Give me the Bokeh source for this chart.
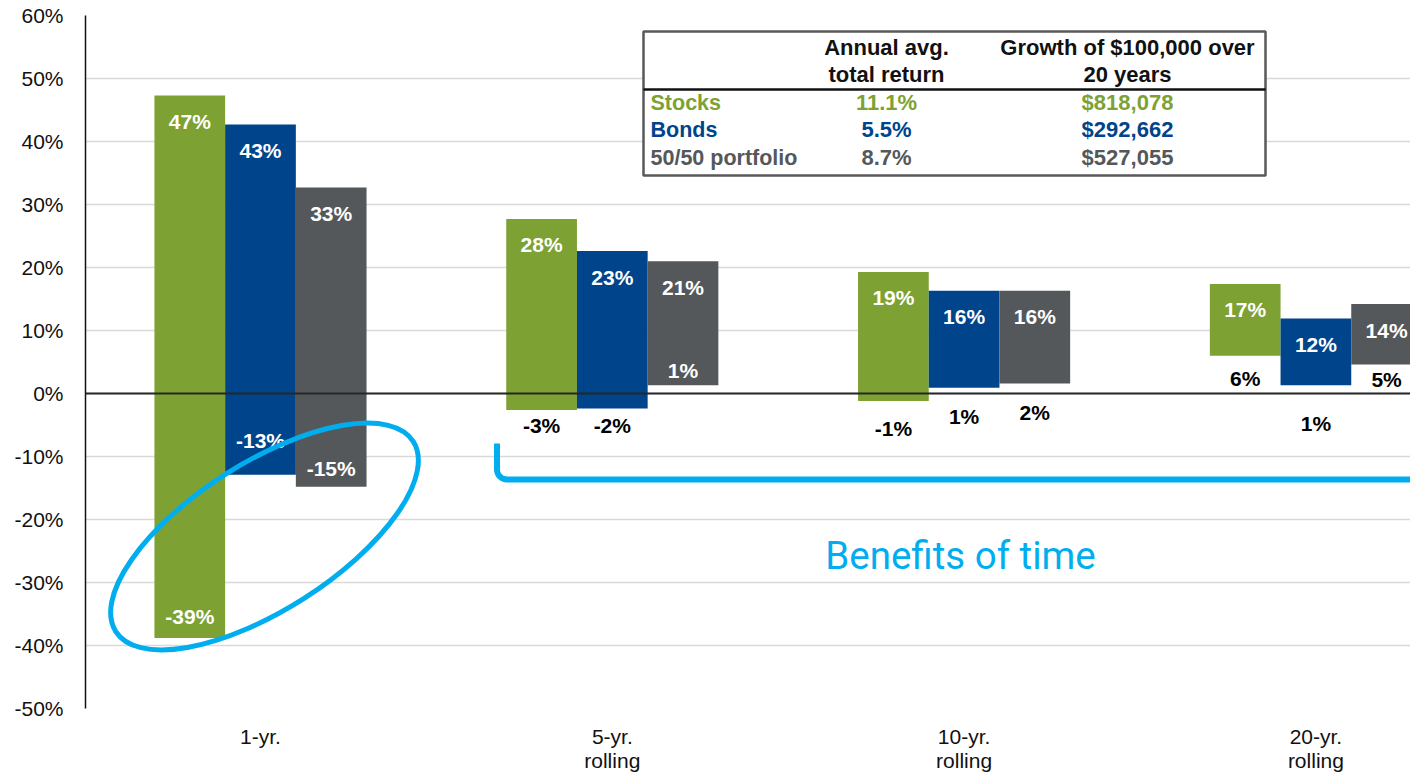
import math
import numpy as np
from bokeh.plotting import figure
from bokeh.models import Range1d, FixedTicker, Span
from bokeh.core.properties import value
from bokeh.embed import file_html
from bokeh.resources import INLINE

# ---------------- data ----------------
periods = ["1-yr.", "5-yr.\nrolling", "10-yr.\nrolling", "20-yr.\nrolling"]
series = ["Stocks", "Bonds", "50/50 portfolio"]

stocks_high = [47.3, 27.7, 19.3, 17.4]
stocks_low = [-38.8, -2.6, -1.2, 6.0]
bonds_high = [42.7, 22.6, 16.3, 11.9]
bonds_low = [-12.9, -2.4, 0.9, 1.3]
mix_high = [32.7, 21.0, 16.3, 14.2]
mix_low = [-14.8, 1.3, 1.6, 4.6]

table_header_1 = ["Annual avg.", "total return"]
table_header_2 = ["Growth of $100,000 over", "20 years"]
table_avg_return = ["11.1%", "5.5%", "8.7%"]
table_growth = ["$818,078", "$292,662", "$527,055"]

y_ticks = list(range(-50, 61, 10))
annotation_text = "Benefits of time"

# ---------------- styling / layout ----------------
COLORS = ["#7DA133", "#00448B", "#54585A"]
CYAN = "#00AEEF"
FONT = "Liberation Sans"

BORDER_L, BORDER_T, BORDER_B = 85, 15, 64
FRAME_W, FRAME_H = 1410 - BORDER_L, 693
PAGE_FRAME_L = BORDER_L      # picture x of frame left
PAGE_FRAME_T = BORDER_T      # picture y of frame top
SX = 351.8                   # px per group
GROUP0_PX = 260.0
X_START = -(GROUP0_PX - PAGE_FRAME_L) / SX
X_END = X_START + FRAME_W / SX
Y_MIN, Y_MAX = -50, 60
SY = FRAME_H / (Y_MAX - Y_MIN)
BAR_W = 70.7 / SX


def xd(px):
    return X_START + (px - PAGE_FRAME_L) / SX


def yd(py):
    return Y_MAX - (py - PAGE_FRAME_T) / SY


# label placement for low values: px below bar bottom (negative = inside the bar)
low_label_offsets = [[-21, 16, 27, 23], [-34, 17, 29, 38], [-18, -15, 29, 15]]
high_label_offset = 26

p = figure(frame_width=FRAME_W, frame_height=FRAME_H,
           x_range=Range1d(X_START, X_END), y_range=Range1d(Y_MIN, Y_MAX),
           output_backend="svg", toolbar_location=None,
           min_border_left=BORDER_L, min_border_top=BORDER_T,
           min_border_right=0, min_border_bottom=BORDER_B)
p.outline_line_color = None
p.background_fill_color = "white"
p.border_fill_color = "white"

# axes
p.yaxis.ticker = FixedTicker(ticks=y_ticks)
p.yaxis.major_label_overrides = {t: f"{t}%" for t in y_ticks}
p.yaxis.major_label_text_font = FONT
p.yaxis.major_label_text_font_size = "21px"
p.yaxis.major_label_text_color = "#111111"
p.yaxis.major_tick_line_color = None
p.yaxis.minor_tick_line_color = None
p.yaxis.axis_line_color = "#111111"
p.yaxis.axis_line_width = 1.5
p.yaxis.major_label_standoff = 16

p.xaxis.ticker = FixedTicker(ticks=list(range(len(periods))))
p.xaxis.major_label_overrides = {i: s for i, s in enumerate(periods)}
p.xaxis.major_label_text_font = FONT
p.xaxis.major_label_text_font_size = "21px"
p.xaxis.major_label_text_color = "#111111"
p.xaxis.major_label_text_line_height = 1.05
p.xaxis.major_tick_line_color = None
p.xaxis.minor_tick_line_color = None
p.xaxis.axis_line_color = None
p.xaxis.major_label_standoff = 10

p.xgrid.grid_line_color = None
p.ygrid.ticker = FixedTicker(ticks=y_ticks)
p.ygrid.grid_line_color = "#D9D9D9"
p.ygrid.grid_line_width = 1.5

# bars and labels
highs = [stocks_high, bonds_high, mix_high]
lows = [stocks_low, bonds_low, mix_low]
for k in range(3):
    xs = [i + (k - 1) * BAR_W for i in range(len(periods))]
    p.vbar(x=xs, width=BAR_W, top=highs[k], bottom=lows[k],
           fill_color=COLORS[k], line_color=None)
    p.text(x=xs, y=[h - high_label_offset / SY for h in highs[k]],
           text=[f"{round(h)}%" for h in highs[k]],
           text_font=value(FONT), text_font_style="bold", text_font_size="21px",
           text_color="white", text_align="center", text_baseline="middle")
    offs = low_label_offsets[k]
    p.text(x=xs, y=[lo - o / SY for lo, o in zip(lows[k], offs)],
           text=[f"{round(lo)}%" for lo in lows[k]],
           text_font=value(FONT), text_font_style="bold", text_font_size="21px",
           text_color=["white" if o < 0 else "#000000" for o in offs],
           text_align="center", text_baseline="middle")

p.add_layout(Span(location=0, dimension="width", line_color="#262626", line_width=2))

# table
TFS = "22px"
p.quad(left=[xd(643)], right=[xd(1265)], top=[yd(31)], bottom=[yd(175)],
       fill_color="white", line_color="#595959", line_width=2.5)
p.segment(x0=[xd(643)], x1=[xd(1265)], y0=[yd(89)], y1=[yd(89)],
          line_color="#111111", line_width=2.5)
col1, col2 = xd(886), xd(1127)
hdr_y = [yd(47), yd(74)]
p.text(x=[col1] * 2, y=hdr_y, text=table_header_1, text_font=value(FONT),
       text_font_style="bold", text_font_size=TFS, text_color="#111111",
       text_align="center", text_baseline="middle")
p.text(x=[col2] * 2, y=hdr_y, text=table_header_2, text_font=value(FONT),
       text_font_style="bold", text_font_size=TFS, text_color="#111111",
       text_align="center", text_baseline="middle")
row_y = [yd(102), yd(129), yd(157)]
p.text(x=[xd(650)] * 3, y=row_y, text=series, text_font=value(FONT),
       text_font_style="bold", text_font_size="21.5px", text_color=COLORS,
       text_align="left", text_baseline="middle")
p.text(x=[col1] * 3, y=row_y, text=table_avg_return, text_font=value(FONT),
       text_font_style="bold", text_font_size=TFS, text_color=COLORS,
       text_align="center", text_baseline="middle")
p.text(x=[col2] * 3, y=row_y, text=table_growth, text_font=value(FONT),
       text_font_style="bold", text_font_size=TFS, text_color=COLORS,
       text_align="center", text_baseline="middle")

# bracket "benefits of time"
x0, ytop, ycorner, r, xend = 496.5, 443.0, 479.0, 10.0, 1430.0
t = np.linspace(math.pi, math.pi / 2, 10)
bx = [x0] + list(x0 + r + r * np.cos(t)) + [xend]
by = [ytop] + list(ycorner - r + r * np.sin(t)) + [ycorner]
p.line(x=[xd(v) for v in bx], y=[yd(v) for v in by], line_color=CYAN,
       line_width=6, line_join="round")
p.text(x=[xd(960)], y=[yd(555)], text=[annotation_text], text_font=value("Roboto"),
       text_font_size="38.5px", text_color=CYAN, text_align="center",
       text_baseline="alphabetic")

# ellipse highlighting 1-yr range
p.ellipse(x=[xd(264)], y=[yd(536)], width=353, height=147,
          width_units="screen", height_units="screen", angle=math.radians(32.6),
          fill_color=None, line_color=CYAN, line_width=5)

open("out.html", "w").write(file_html(p, INLINE))
